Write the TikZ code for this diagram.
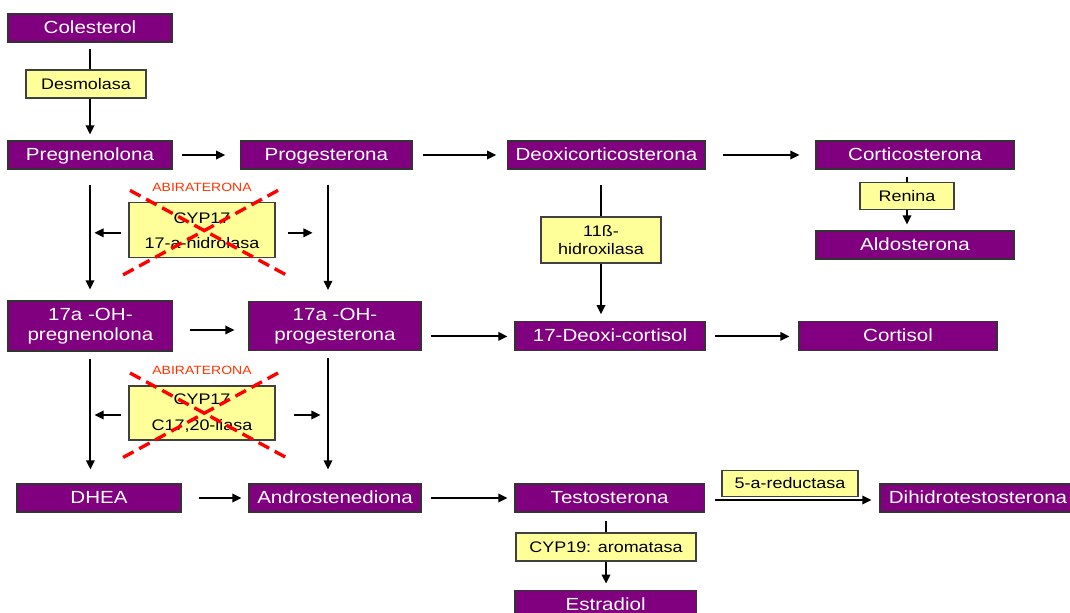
\documentclass[tikz,border=0pt]{standalone}
\usepackage{fontspec}
\setmainfont[FakeStretch=1.17]{Liberation Sans}
\usetikzlibrary{arrows.meta,positioning}

\definecolor{hormonepurple}{HTML}{800080}
\definecolor{enzymeyellow}{HTML}{FFFF99}
\definecolor{blockred}{HTML}{FF3300}
\definecolor{crossred}{HTML}{FF0000}

\begin{document}
\begin{tikzpicture}[
    compound/.style={draw=black!80, fill=hormonepurple, text=white,
        rectangle, line width=0.8pt, minimum height=0.7cm, inner sep=1pt,
        text height=0.72em, text depth=0pt,
        font=\fontsize{12.5}{14.5}\selectfont, align=center},
    enzbox/.style={draw=black!75, fill=enzymeyellow, rectangle,
        line width=0.8pt, minimum height=0.7cm, inner sep=1pt,
        text height=0.72em, text depth=0pt,
        font=\fontsize{10.9}{13}\selectfont, align=center},
    twolines/.style={text height=, text depth=},
    blocker/.style={text=blockred, inner sep=0pt,
        font=\fontsize{8.5}{10}\selectfont},
    flow/.style={line width=1.4pt, -{Triangle[length=6.5pt,width=6pt]}},
    link/.style={line width=1.4pt},
    cross/.style={draw=crossred, line width=2.4pt, dash pattern=on 8.5pt off 4.5pt},
  ]
    \useasboundingbox (0,0) rectangle (26.75,-15.325);

    % first row
    \node[compound, minimum width=4.1cm] (Col) at (2.25,-0.7) {Colesterol};
    \node[enzbox, minimum width=3cm] (Desm) at (2.15,-2.1) {Desmolasa};
    \node[compound, minimum width=4.1cm] (Preg) at (2.25,-3.875) {Pregnenolona};
    \node[compound, minimum width=4.28cm] (Prog) at (8.16,-3.875) {Progesterona};
    \node[compound, minimum width=4.93cm] (Doc) at (15.16,-3.875) {Deoxicorticosterona};
    \node[compound, minimum width=4.95cm] (Cort) at (22.875,-3.875) {Corticosterona};
    \node[enzbox, minimum width=2.35cm, minimum height=0.675cm]
        (Ren) at (22.675,-4.91) {Renina};
    \node[compound, minimum width=4.95cm] (Aldo) at (22.875,-6.125) {Aldosterona};

    \node[enzbox, twolines, minimum width=3.65cm, minimum height=1.375cm,
          font=\fontsize{10.9}{18}\selectfont]
        (CypA) at (5.05,-5.76) {CYP17\\17-a-hidrolasa};
    \node[blocker] (AbiA) at (5.05,-4.675) {ABIRATERONA};
    \node[enzbox, twolines, minimum width=3cm, minimum height=1.15cm]
        (Hidrox) at (15.025,-6.0) {11ß-\\hidroxilasa};

    % second row
    \node[compound, twolines, minimum width=4.12cm, minimum height=1.25cm]
        (OHPreg) at (2.26,-8.15) {17a -OH-\\pregnenolona};
    \node[compound, twolines, minimum width=4.3cm, minimum height=1.225cm]
        (OHProg) at (8.375,-8.15) {17a -OH-\\progesterona};
    \node[compound, minimum width=4.75cm, minimum height=0.725cm]
        (DeoxCort) at (15.25,-8.41) {17-Deoxi-cortisol};
    \node[compound, minimum width=4.95cm, minimum height=0.725cm]
        (Cortisol) at (22.45,-8.41) {Cortisol};

    \node[enzbox, twolines, minimum width=3.65cm, minimum height=1.35cm,
          font=\fontsize{10.9}{18}\selectfont]
        (CypB) at (5.05,-10.325) {CYP17\\C17,20-liasa};
    \node[blocker] (AbiB) at (5.05,-9.25) {ABIRATERONA};

    % third row
    \node[compound, minimum width=4.1cm] (DHEA) at (2.475,-12.45) {DHEA};
    \node[compound, minimum width=4.3cm] (Andro) at (8.375,-12.45) {Androstenediona};
    \node[compound, minimum width=4.73cm] (Testo) at (15.24,-12.45) {Testosterona};
    \node[compound, minimum width=4.9cm] (DHT) at (24.45,-12.45) {Dihidrotestosterona};
    \node[enzbox, minimum width=3.4cm, minimum height=0.65cm, anchor=south]
        (Red) at (19.75,-12.425) {5-a-reductasa};
    \node[enzbox, minimum width=4.5cm] (Arom) at (15.15,-13.675) {CYP19: aromatasa};
    \node[compound, minimum width=4.53cm, minimum height=0.75cm]
        (Estr) at (15.14,-15.13) {Estradiol};

    \coordinate (ProgAxis) at ([xshift=-0.175cm]OHProg.north);
    \coordinate[left=0.85cm of CypA.west] (CypAL);
    \coordinate[right=0.925cm of CypA.east] (CypAR);
    \coordinate[left=0.85cm of CypB.west] (CypBL);
    \coordinate[right=1.125cm of CypB.east] (CypBR);

    % vertical steps
    \draw[link, shorten <=0.15cm] (Col.south) -- (Col.south |- Desm.north);
    \draw[flow, shorten >=0.15cm] (Col.south |- Desm.south) -- (Preg.north);
    \draw[link, shorten <=0.175cm] (Ren.north |- Cort.south) -- (Ren.north);
    \draw[flow, shorten >=0.15cm] (Ren.south) -- (Ren.south |- Aldo.north);
    \draw[flow, shorten <=0.375cm, shorten >=0.275cm]
        (Preg.south) -- (Preg.south |- OHPreg.north);
    \draw[flow, shorten <=0.375cm, shorten >=0.275cm]
        (ProgAxis |- Prog.south) -- (ProgAxis);
    \draw[link, shorten <=0.375cm] (Hidrox.north |- Doc.south) -- (Hidrox.north);
    \draw[flow, shorten >=0.175cm] (Hidrox.south) -- (Hidrox.south |- DeoxCort.north);
    \draw[flow, shorten <=0.175cm, shorten >=0.35cm]
        (OHPreg.south) -- (OHPreg.south |- DHEA.north);
    \draw[flow, shorten <=0.175cm, shorten >=0.35cm]
        (ProgAxis |- OHProg.south) -- (ProgAxis |- Andro.north);
    \draw[link, shorten <=0.2cm] (Arom.north |- Testo.south) -- (Arom.north);
    \draw[flow, shorten >=0.15cm] (Arom.south) -- (Arom.south |- Estr.north);

    % horizontal steps
    \draw[flow, shorten <=0.225cm, shorten >=0.375cm] (Preg) -- (Prog);
    \draw[flow, shorten <=0.25cm, shorten >=0.275cm] (Prog) -- (Doc);
    \draw[flow, shorten <=0.425cm, shorten >=0.4cm] (Doc) -- (Cort);
    \draw[flow, shorten <=0.425cm, shorten >=0.35cm]
        ([yshift=-0.1cm]OHPreg.east) -- ([yshift=-0.1cm]OHProg.west);
    \draw[flow, shorten <=0.225cm, shorten >=0.175cm]
        (OHProg.east |- DeoxCort) -- (DeoxCort.west);
    \draw[flow, shorten <=0.225cm, shorten >=0.225cm] (DeoxCort) -- (Cortisol);
    \draw[flow, shorten <=0.425cm, shorten >=0.175cm] (DHEA) -- (Andro);
    \draw[flow, shorten <=0.225cm, shorten >=0.175cm] (Andro) -- (Testo);
    \draw[flow, shorten <=0.25cm, shorten >=0.2cm]
        ([yshift=-0.05cm]Testo.east) -- ([yshift=-0.05cm]DHT.west);

    % side arrows of CYP17
    \draw[flow, shorten <=0.175cm] ([yshift=-0.06cm]CypA.west) -- ([yshift=-0.06cm]CypAL);
    \draw[flow, shorten <=0.3cm] ([yshift=-0.06cm]CypA.east) -- ([yshift=-0.06cm]CypAR);
    \draw[flow, shorten <=0.175cm] ([yshift=-0.05cm]CypB.west) -- ([yshift=-0.05cm]CypBL);
    \draw[flow, shorten <=0.45cm] ([yshift=-0.05cm]CypB.east) -- ([yshift=-0.05cm]CypBR);

    % abiraterona blocks
    \foreach \enz in {CypA, CypB} {
        \draw[cross] ([shift={(-1.8,1.0)}]\enz.center) -- ([shift={(2.1,-1.11)}]\enz.center);
        \draw[cross] ([shift={(1.9,1.0)}]\enz.center) -- ([shift={(-2.025,-1.14)}]\enz.center);
    }
  \end{tikzpicture}
\end{document}
